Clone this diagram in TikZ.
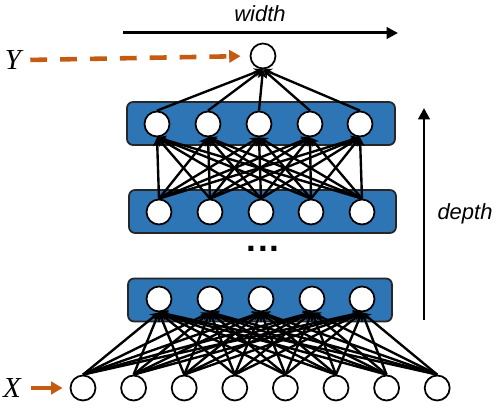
\documentclass[tikz,border=0pt]{standalone}
\usepackage{fontspec}
\setmainfont{Liberation Sans}
\newfontfamily\serifit{Liberation Serif}
\usetikzlibrary{arrows,arrows.meta,positioning}
\definecolor{layerblue}{HTML}{2E75B6}
\definecolor{signal}{HTML}{C55A11}

\begin{document}
\begin{tikzpicture}[x=0.02cm,y=-0.02cm,
    neuron/.style={circle,draw,fill=white,line width=1pt,minimum size=0.5cm,inner sep=0pt},
    layer/.style={draw=black!85,fill=layerblue,rounded corners=0.12cm,line width=1pt,
      minimum width=#1,minimum height=0.86cm,inner sep=0pt},
    link/.style={-{Stealth[length=5pt,width=5pt]},line width=1.35pt},
    axis/.style={-{Triangle[length=6.5pt,width=6.5pt]},line width=1.7pt},
    feed/.style={-{Triangle[length=6.5pt,width=7pt]},draw=signal,line width=2.6pt},
    label/.style={font=\itshape\fontsize{12.5}{14}\selectfont},
    var/.style={font=\serifit\itshape\fontsize{16.5}{18}\selectfont}]
  \useasboundingbox (0,0) rectangle (498,411);

  % hidden layers
  \node[layer=5.36cm] (box1) at (261,123.5) {};
  \node[layer=5.34cm] (box2) at (262.5,211.5) {};
  \node[layer=5.28cm] (box3) at (260,300) {};

  % neurons
  \node[neuron] (t) at (263,56) {};
  \foreach \i/\x in {1/157,2/208,3/259,4/310,5/360} \node[neuron] (a\i) at (\x,124) {};
  \foreach \i/\x in {1/159,2/210,3/261,4/311,5/362} \node[neuron] (b\i) at (\x,212) {};
  \foreach \i/\x in {1/159,2/210,3/261,4/312,5/362} \node[neuron] (c\i) at (\x,299) {};
  \foreach \i in {1,...,8} \node[neuron] (x\i) at ({83+50.6*(\i-1)},388) {};

  % connections
  \foreach \i in {1,...,5} \draw[link] (a\i.north) -- (t.south);
  \foreach \i in {1,...,5} \foreach \j in {1,...,5} \draw[link] (b\i.north) -- (a\j.south);
  \foreach \i in {1,...,8} \foreach \j in {1,...,5} \draw[link] (x\i.north) -- (c\j.south);

  \node[font=\bfseries\fontsize{20}{20}\selectfont] (dots) at (263,249) {.\kern0.8pt.\kern0.8pt.};

  % width and depth
  \node[label] (wlabel) at (260,14) {width};
  \coordinate (wstart) at (123,33);
  \coordinate (wend) at (398,33);
  \draw[axis] (wstart) -- (wend);
  \coordinate (dstart) at (424,320);
  \coordinate (dend) at (424,108);
  \draw[axis] (dstart) -- (dend);
  \node[label] (dlabel) at (465,214) {depth};

  % input and output
  \node[var] (ylabel) at (13,60) {Y};
  \draw[feed,dash pattern=on 9.6pt off 7.4pt,shorten <=0.06cm,shorten >=0.18cm] (ylabel.east) -- (t.west);
  \node[var] (xlabel) at (12,388) {X};
  \draw[feed,shorten <=0.08cm,shorten >=0.14cm] (xlabel.east) -- (x1.west);
\end{tikzpicture}
\end{document}
